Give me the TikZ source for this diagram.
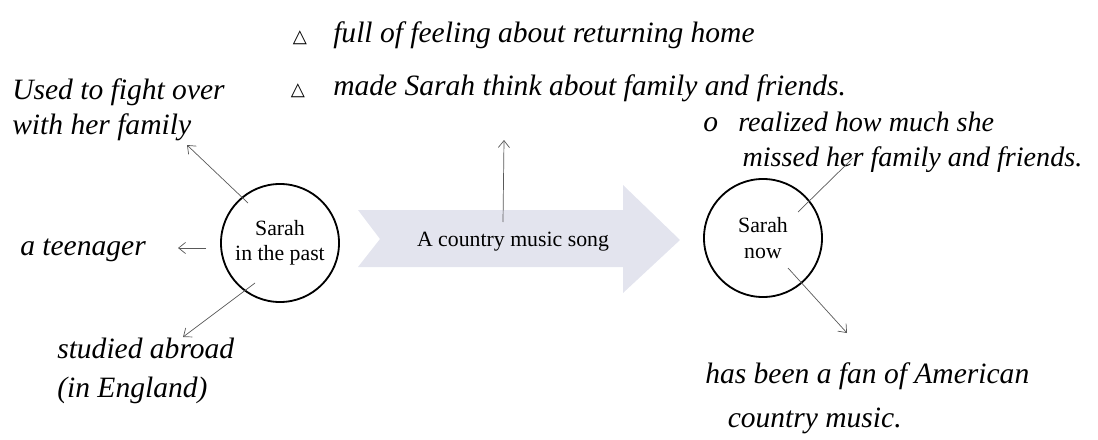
\documentclass[tikz,border=0pt]{standalone}
\usepackage{fontspec}
\setmainfont{Liberation Serif}
\newfontfamily\symfont{DejaVu Sans}
\usetikzlibrary{arrows.meta}
\definecolor{songfill}{HTML}{E3E4EE}

\begin{document}
\begin{tikzpicture}[x=0.025cm,y=-0.025cm,
    hand/.style={font=\fontsize{21}{25}\selectfont\itshape,anchor=west,inner sep=0pt,align=left},
    bullet/.style={font=\symfont\fontsize{13}{15}\selectfont,inner sep=0pt},
    who/.style={draw,circle,line width=1.3pt,minimum size=2.95cm,inner sep=0pt,align=center,font=\fontsize{15.5}{18}\selectfont},
    link/.style={draw=black!65,line width=0.5pt,-{Straight Barb[length=5pt,width=8pt]}}]
  \useasboundingbox (0,0) rectangle (1098,440);
  % the song arrow
  \fill[songfill] (358,210) -- (623,210) -- (623,185) -- (680,240) -- (623,293)
    -- (623,267) -- (358,267) -- (380,239) -- cycle;
  \node[font=\fontsize{15.5}{18}\selectfont] (song) at (513,242) {A country music song};
  \node[who] (past) at (280,243) {Sarah\\in the past};
  \node[who] (now) at (763,238) {Sarah\\now};

  % notes round the song
  \node[bullet] (b1) at (300,38) {△};
  \node[hand] (feel) at (333,35) {full of feeling about returning home};
  \node[bullet] (b2) at (298,91) {△};
  \node[hand] (think) at (333,88) {made Sarah think about family and friends.};
  \coordinate (songtop) at (503,222);
  \coordinate (songend) at (504,140);
  \draw[link] (songtop) -- (songend);

  % Sarah in the past
  \node[hand] (fight) at (12,110) {Used to fight over\\with her family};
  \node[hand] (teen) at (20,250) {a teenager};
  \node[hand] (abroad) at (57,371) {studied abroad\\[3pt](in England)};
  \coordinate (p1) at (248,203);
  \coordinate (p1end) at (187,145);
  \coordinate (p2) at (206,248);
  \coordinate (p2end) at (178,248);
  \coordinate (p3) at (255,283);
  \coordinate (p3end) at (183,337);
  \draw[link] (p1) -- (p1end);
  \draw[link] (p2) -- (p2end);
  \draw[link] (p3) -- (p3end);

  % Sarah now
  \node[hand] (o) at (703,125) {o};
  \node[hand,font=\fontsize{20}{25}\selectfont\itshape] (miss) at (738,142) {realized how much she\\\hspace*{3pt}missed her family and friends.};
  \node[hand] (fan) at (705,398) {has been a fan of American\\[6pt]\hspace*{16pt}country music.};
  \coordinate (n1) at (798,212);
  \coordinate (n1end) at (853,158);
  \coordinate (n2) at (788,268);
  \coordinate (n2end) at (847,333);
  \draw[black!65,line width=0.5pt] (n1) -- (n1end);
  \draw[link] (n2) -- (n2end);
\end{tikzpicture}
\end{document}
